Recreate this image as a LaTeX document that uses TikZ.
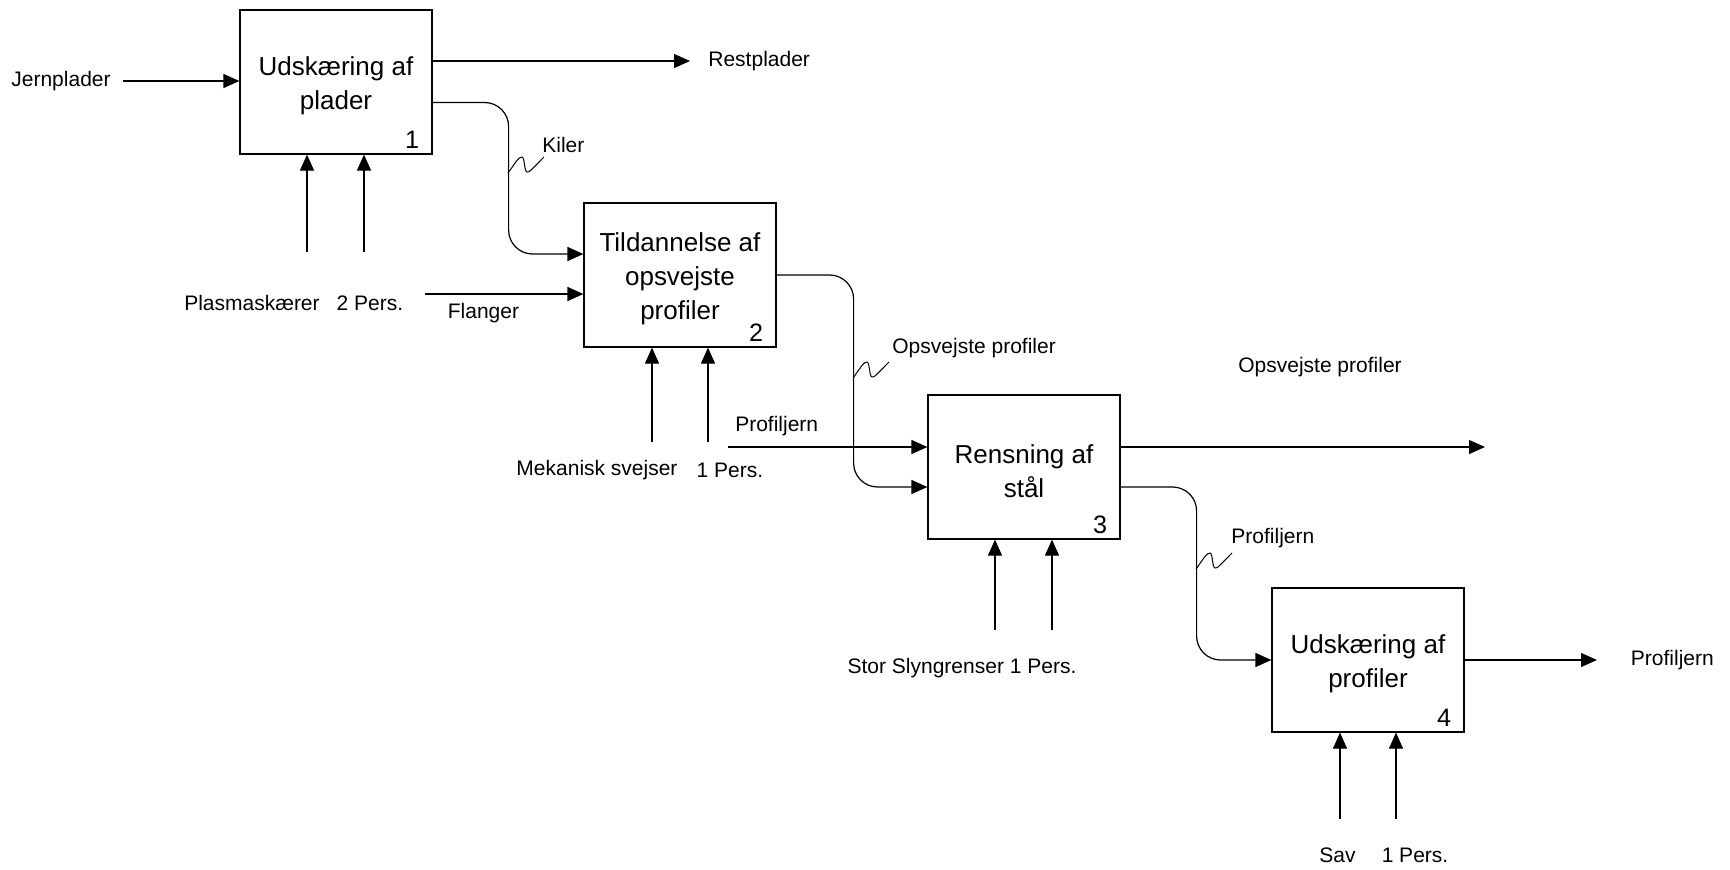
\documentclass[tikz,border=0pt]{standalone}
\usepackage{fontspec}
\setmainfont{Liberation Sans}
\usetikzlibrary{arrows.meta,calc}
\begin{document}
\begin{tikzpicture}[x=0.5pt,y=-0.5pt,
  every node/.style={inner sep=0pt},
  procbox/.style={draw, line width=0.6pt, minimum width=96pt, minimum height=72pt},
  boxtext/.style={align=center, font=\fontsize{13}{17}\selectfont},
  lbl/.style={font=\fontsize{10.5}{12}\selectfont},
  num/.style={font=\fontsize{12.6}{14}\selectfont, anchor=base east},
  flow/.style={line width=0.6pt, -{Triangle[length=8pt,width=7pt]}},
  squig/.pic={\draw[line width=0.5pt] (0,0) .. controls (6,-8) and (11,-17) .. (14,-16) .. controls (17,-15) and (16,-2) .. (19,-1) .. controls (21,0) and (25,-5) .. (36,-16);}
]
\fill[white] (0,0) rectangle (1730,869);
\useasboundingbox (0,0) rectangle (1730,869);

% boxes
\node[procbox] (b1) at (336,82) {};
\node[boxtext] (t1) at ([yshift=-2pt]b1.center) {Udskæring af\\plader};
\node[num] (n1) at ([xshift=-6.5pt,yshift=3.25pt]b1.south east) {1};
\node[procbox] (b2) at (680,275) {};
\node[boxtext] (t2) at ([yshift=-2pt]b2.center) {Tildannelse af\\opsvejste\\profiler};
\node[num] (n2) at ([xshift=-6.5pt,yshift=3.25pt]b2.south east) {2};
\node[procbox] (b3) at (1024,467) {};
\node[boxtext] (t3) at ([yshift=-2pt]b3.center) {Rensning af\\stål};
\node[num] (n3) at ([xshift=-6.5pt,yshift=3.25pt]b3.south east) {3};
\node[procbox] (b4) at (1368,660) {};
\node[boxtext] (t4) at ([yshift=-2pt]b4.center) {Udskæring af\\profiler};
\node[num] (n4) at ([xshift=-6.5pt,yshift=3.25pt]b4.south east) {4};

% box 1
\node[lbl, anchor=west] (jern) at (11,81) {Jernplader};
\draw[flow] ([xshift=6pt]jern.east) -- (jern.east -| b1.west);
\node[lbl, anchor=west] (rest) at (708,61) {Restplader};
\draw[flow] (b1.east |- rest.west) -- ([xshift=-9pt]rest.west);
\draw[flow, rounded corners=12pt] ([yshift=-10.25pt]b1.east) -- ++(76,0) |- ([yshift=10.5pt]b2.west);
\pic at (508,173) {squig};
\node[lbl, anchor=west] (kiler) at (542,145) {Kiler};
\coordinate (c1a) at (307,252);
\coordinate (c1b) at (364,252);
\draw[flow] (c1a) -- (c1a |- b1.south);
\draw[flow] (c1b) -- (c1b |- b1.south);
\node[lbl] (plasma) at (252,303) {Plasmaskærer};
\node[lbl] (pers1) at (370,303) {2 Pers.};

% box 2
\coordinate (flin) at (425,294);
\draw[flow] (flin) -- (flin -| b2.west);
\node[lbl] (flanger) at (483.5,313) {Flanger};
\coordinate (c2a) at (652,441.5);
\coordinate (c2b) at (708,441.5);
\draw[flow] (c2a) -- (c2a |- b2.south);
\draw[flow] (c2b) -- (c2b |- b2.south);
\node[lbl] (mek) at (597,470) {Mekanisk svejser};
\node[lbl] (pers2) at (730,470) {1 Pers.};
\draw[flow, rounded corners=12pt] (b2.east) -- ++(77,0) |- ([yshift=-10pt]b3.west);
\pic at (853,378) {squig};
\node[lbl, anchor=west] (ops1) at (892,348) {Opsvejste profiler};

% box 3
\coordinate (pin) at (728,447);
\draw[flow] (pin) -- (pin -| b3.west);
\node[lbl] (prof1) at (776.7,426) {Profiljern};
\coordinate (o3) at (1485,447);
\draw[flow] (o3 -| b3.east) -- (o3);
\node[lbl] (ops2) at (1320,367) {Opsvejste profiler};
\draw[flow, rounded corners=12pt] ([yshift=-10pt]b3.east) -- ++(76,0) |- (b4.west);
\pic at (1196,569) {squig};
\node[lbl, anchor=west] (prof2) at (1231,538.5) {Profiljern};
\coordinate (c3a) at (995,630);
\coordinate (c3b) at (1052,630);
\draw[flow] (c3a) -- (c3a |- b3.south);
\draw[flow] (c3b) -- (c3b |- b3.south);
\node[lbl] (stor) at (962,668) {Stor Slyngrenser 1 Pers.};

% box 4
\node[lbl, anchor=west] (pout) at (1630.5,660) {Profiljern};
\draw[flow] (b4.east) -- ([xshift=-16.75pt]pout.west);
\coordinate (c4a) at (1340,819);
\coordinate (c4b) at (1396,819);
\draw[flow] (c4a) -- (c4a |- b4.south);
\draw[flow] (c4b) -- (c4b |- b4.south);
\node[lbl] (sav) at (1337.5,855.5) {Sav};
\node[lbl] (pers4) at (1415,855.5) {1 Pers.};
\end{tikzpicture}
\end{document}
